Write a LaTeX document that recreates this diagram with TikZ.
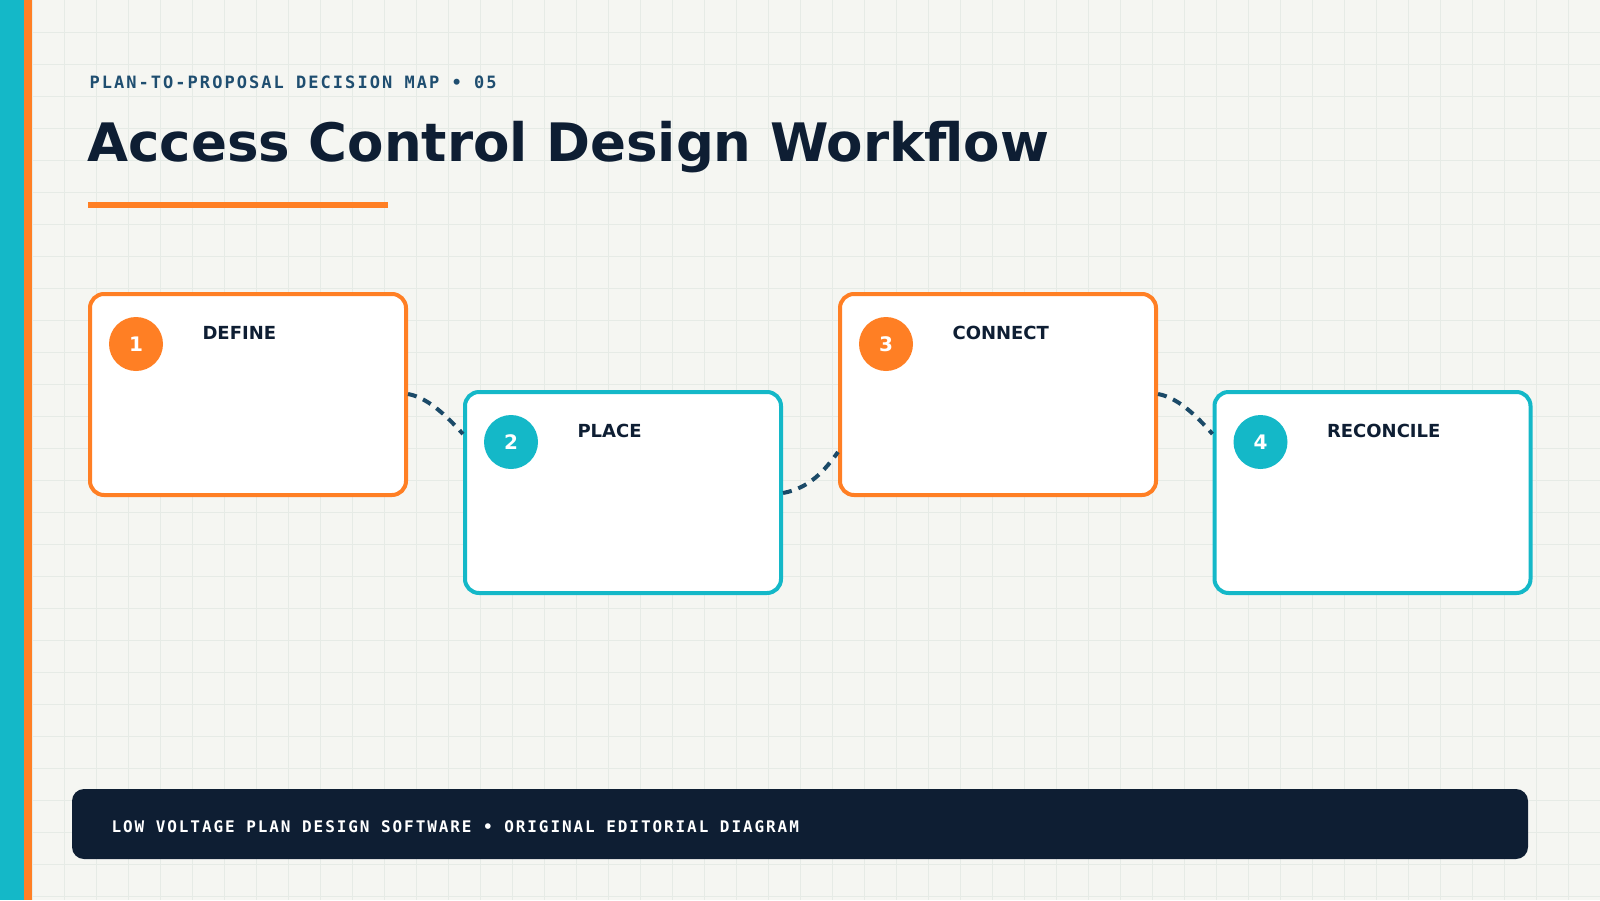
\documentclass[tikz,border=0pt]{standalone}
\usepackage{fontspec}
\setmainfont{DejaVu Sans}
\newfontfamily\monof{DejaVu Sans Mono}
\definecolor{bg}{HTML}{F5F6F2}
\definecolor{gridc}{HTML}{E6EBE6}
\definecolor{cyanc}{HTML}{14B8C8}
\definecolor{orangec}{HTML}{FF7F24}
\definecolor{navy}{HTML}{0E1E33}
\definecolor{dashc}{HTML}{1B4A68}
\definecolor{subc}{HTML}{1F4E70}
\begin{document}
\begin{tikzpicture}[x=1pt,y=-1pt,
  box/.style={draw=#1,line width=4pt,fill=white,rounded corners=14pt,minimum width=316pt,minimum height=201pt,inner sep=0pt},
  num/.style={circle,fill=#1,minimum size=54pt,inner sep=0pt,text=white,font=\fontsize{20}{20}\selectfont\bfseries},
  lab/.style={anchor=west,text=navy,font=\fontsize{18}{18}\selectfont\bfseries},
  conn/.style={draw=dashc,line width=4pt,dash pattern=on 9pt off 7pt}]
\useasboundingbox (0,0) rectangle (1600,900);
\fill[bg] (0,0) rectangle (1600,900);
\foreach \x in {32,64,...,1600} \draw[gridc,line width=0.6pt] (\x,0) -- (\x,900);
\foreach \y in {32,64,...,900} \draw[gridc,line width=0.6pt] (0,\y) -- (1600,\y);
\fill[cyanc] (0,0) rectangle (24,900);
\fill[orangec] (24,0) rectangle (32,900);
\node[anchor=west,text=subc,font=\monof\fontsize{17}{17}\selectfont\bfseries] (sub) at (86,82) {\addfontfeature{LetterSpace=12}PLAN-TO-PROPOSAL DECISION MAP • 05};
\node[anchor=west,text=navy,font=\fontsize{53}{53}\selectfont\bfseries] (title) at (84,147) {Access Control Design Workflow};
\fill[orangec] (88,202) rectangle (388,208);
\node[box=orangec] (b1) at (248,394.5) {};
\node[box=cyanc] (b2) at (623,492.5) {};
\node[box=orangec] (b3) at (998,394.5) {};
\node[box=cyanc] (b4) at (1372.5,492.5) {};
\draw[conn] (b1.east |- 0,394) .. controls (430,398) and (450,420) .. (b2.west |- 0,434);
\draw[conn] (b2.east |- 0,493) .. controls (810,488) and (825,470) .. (b3.west |- 0,452);
\draw[conn] (b3.east |- 0,394) .. controls (1180,398) and (1200,420) .. (b4.west |- 0,434);
\foreach \b/\n/\c/\t in {b1/1/orangec/DEFINE,b2/2/cyanc/PLACE,b3/3/orangec/CONNECT,b4/4/cyanc/RECONCILE}{
  \node[num=\c] (n\n) at ([xshift=48pt,yshift=-52pt]\b.north west) {\n};
  \node[lab] (l\n) at ([xshift=111pt,yshift=-41pt]\b.north west) {\t};
}
\node[fill=navy,rounded corners=12pt,minimum width=1456pt,minimum height=70pt,inner sep=0pt] (foot) at (800,824) {};
\node[anchor=west,text=white,font=\monof\fontsize{16}{16}\selectfont\bfseries] (ftxt) at (108,827) {\addfontfeature{LetterSpace=12}LOW VOLTAGE PLAN DESIGN SOFTWARE • ORIGINAL EDITORIAL DIAGRAM};
\end{tikzpicture}
\end{document}
